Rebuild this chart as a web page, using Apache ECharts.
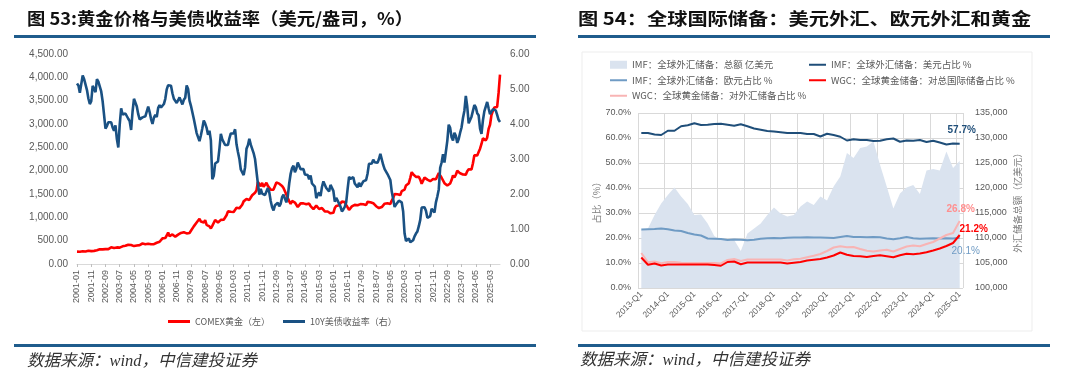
<!DOCTYPE html>
<html><head><meta charset="utf-8">
<script src="https://cdn.jsdelivr.net/npm/echarts@6/dist/echarts.min.js"></script>
<style>html,body{margin:0;padding:0;background:#fff;}#c{width:1080px;height:389px;}</style>
</head><body><div id="c"></div>
<script>
// ---------- Figure 53: gold price vs US 10Y yield (monthly, 2001-01 .. 2025-10) ----------
const goldPrice = [
265.5,261.9,263.0,260.5,272.4,270.2,267.5,272.4,283.4,283.1,276.2,275.9,
281.7,295.5,294.0,302.7,314.5,321.2,313.3,310.3,319.2,316.6,319.2,333.4,
356.9,359.0,340.6,328.2,355.7,356.4,351.0,359.8,378.9,378.9,389.9,407.6,
414.0,405.3,406.7,403.0,383.5,392.4,398.1,400.5,405.3,420.5,439.4,442.1,
424.0,423.4,434.2,429.2,421.9,430.7,424.5,437.9,456.0,469.9,476.7,510.1,
549.9,555.0,557.1,610.6,675.4,596.2,633.7,632.6,598.2,585.8,627.8,629.8,
631.2,664.8,654.9,679.4,666.9,655.5,665.5,665.3,712.7,754.6,806.3,803.2,
889.6,922.3,968.4,909.7,888.7,889.5,939.8,839.0,829.9,806.6,760.9,816.1,
858.7,943.2,924.3,890.2,928.6,945.7,934.2,949.4,996.6,1043.2,1127.0,1134.7,
1118.0,1095.4,1113.3,1148.7,1205.4,1232.9,1193.0,1215.8,1271.0,1342.0,1369.9,1390.6,
1356.4,1372.7,1424.0,1473.8,1510.4,1528.7,1572.8,1755.8,1771.9,1665.2,1739.0,1652.3,
1656.1,1742.6,1673.8,1649.7,1591.2,1598.8,1594.3,1630.3,1744.8,1746.6,1721.6,1684.8,
1671.9,1627.6,1593.1,1487.9,1414.0,1343.4,1285.5,1351.7,1348.6,1316.6,1275.9,1221.5,
1244.3,1299.6,1336.1,1299.0,1287.5,1279.1,1310.6,1296.0,1238.8,1222.5,1176.3,1202.3,
1251.8,1227.1,1178.6,1198.9,1198.6,1181.5,1128.3,1117.9,1124.8,1159.3,1086.4,1068.3,
1097.9,1199.5,1245.1,1242.3,1261.0,1276.4,1336.7,1340.2,1326.6,1266.6,1238.4,1157.4,
1192.1,1234.2,1231.4,1266.9,1246.0,1260.3,1236.8,1283.0,1314.1,1279.5,1281.9,1264.5,
1331.3,1330.7,1324.7,1334.8,1303.5,1281.6,1237.7,1201.7,1198.4,1215.4,1220.7,1250.4,
1291.8,1320.1,1300.9,1285.9,1283.7,1359.0,1412.9,1500.4,1510.6,1494.8,1470.0,1479.1,
1560.7,1597.1,1591.9,1683.2,1715.9,1732.2,1846.5,1968.6,1921.9,1900.3,1866.3,1858.4,
1867.0,1808.2,1718.2,1760.0,1850.3,1834.6,1807.8,1785.3,1775.1,1776.7,1821.4,1790.4,
1816.0,1856.3,1947.8,1936.9,1848.5,1836.6,1732.7,1764.6,1680.7,1664.5,1725.1,1797.6,
1898.4,1854.6,1912.7,1999.8,1991.4,1942.9,1951.0,1918.7,1916.4,1915.3,1985.8,2029.2,
2034.0,2023.4,2158.4,2330.6,2349.1,2326.8,2398.8,2470.4,2571.7,2690.9,2650.7,2648.0,
2709.0,2894.0,2984.0,3194.0,3280.0,3352.0,3340.0,3366.0,3665.0,4058.0
];
const ust10y = [
5.16,5.10,4.89,5.14,5.39,5.28,5.24,4.97,4.73,4.57,4.65,5.09,
5.04,4.91,5.28,5.21,5.16,4.93,4.65,4.26,3.87,3.94,4.05,4.03,
4.05,3.90,3.81,3.96,3.57,3.33,3.98,4.45,4.27,4.29,4.30,4.27,
4.15,4.08,3.83,4.35,4.72,4.73,4.50,4.28,4.13,4.10,4.19,4.23,
4.22,4.17,4.50,4.34,4.14,4.00,4.18,4.26,4.20,4.46,4.54,4.47,
4.42,4.57,4.72,4.99,5.11,5.11,5.09,4.88,4.72,4.73,4.60,4.56,
4.76,4.72,4.56,4.69,4.75,5.10,5.00,4.67,4.52,4.53,4.15,4.10,
3.74,3.74,3.51,3.68,3.88,4.10,4.01,3.89,3.69,3.81,3.53,2.42,
2.52,2.87,2.82,2.93,3.29,3.72,3.56,3.59,3.40,3.39,3.40,3.59,
3.73,3.69,3.73,3.85,3.42,3.20,3.01,2.70,2.65,2.54,2.76,3.29,
3.39,3.58,3.41,3.46,3.17,3.00,3.00,2.30,1.98,2.15,2.01,1.98,
1.97,1.97,2.17,2.05,1.80,1.62,1.53,1.68,1.72,1.75,1.65,1.72,
1.91,1.98,1.96,1.76,1.93,2.30,2.58,2.74,2.81,2.62,2.72,2.90,
2.86,2.71,2.72,2.71,2.56,2.60,2.54,2.42,2.53,2.30,2.33,2.21,
1.88,1.98,2.04,1.94,2.20,2.36,2.32,2.17,2.17,2.07,2.26,2.24,
2.09,1.78,1.89,1.81,1.81,1.64,1.50,1.56,1.63,1.76,2.14,2.49,
2.43,2.42,2.48,2.30,2.30,2.19,2.32,2.21,2.20,2.36,2.35,2.40,
2.58,2.86,2.84,2.87,2.98,2.91,2.89,2.89,3.00,3.15,3.12,2.83,
2.71,2.68,2.57,2.53,2.40,2.07,2.06,1.63,1.70,1.71,1.81,1.86,
1.76,1.50,0.87,0.66,0.67,0.73,0.62,0.65,0.68,0.79,0.87,0.93,
1.08,1.26,1.61,1.64,1.62,1.52,1.32,1.28,1.37,1.58,1.56,1.47,
1.76,1.93,2.13,2.75,2.90,3.14,2.90,2.90,3.52,3.98,3.89,3.62,
3.53,3.75,3.66,3.46,3.57,3.75,3.90,4.17,4.38,4.80,4.50,4.02,
4.06,4.21,4.21,4.54,4.48,4.31,4.25,3.87,3.72,4.10,4.36,4.39,
4.63,4.45,4.28,4.28,4.42,4.38,4.39,4.26,4.12,4.06
];
const months = [];
for (let y = 2001; y <= 2025; y++) for (let m = 1; m <= 12; m++) {
  if (months.length < goldPrice.length) months.push(y + '-' + String(m).padStart(2, '0'));
}

// ---------- Figure 54: global reserves (quarterly, 2013-Q1 .. 2025-Q1) ----------
const fxTotal = [111600,111900,114600,116900,118600,120100,118300,116800,114600,114700,112900,110400,
109600,109700,109600,107400,110900,111900,112900,114600,116100,114900,114300,114600,
116300,117300,116600,118300,117500,120300,122300,127000,126000,128000,128300,129300,
124600,120300,115900,118900,120100,120600,118800,123500,123800,123500,127300,124000,125400];
const usdShare = [62.0,62.0,61.4,61.2,62.9,62.9,64.7,65.1,65.9,65.2,65.3,65.6,
65.7,65.3,64.9,65.5,64.7,63.8,63.3,62.8,62.6,62.3,62.0,62.0,
62.0,61.6,61.6,60.6,61.7,61.2,60.5,59.0,59.5,59.2,59.2,58.8,
58.9,59.5,59.8,58.5,59.0,58.9,59.2,58.4,58.9,58.2,57.4,57.8,57.7];
const eurShare = [23.4,23.5,23.6,23.8,23.5,23.0,22.8,22.0,21.4,21.0,19.8,19.7,
19.6,19.2,19.4,19.3,19.1,19.3,19.7,19.9,20.0,19.9,20.1,20.2,
20.2,20.3,20.2,20.2,20.1,20.0,20.4,20.8,20.4,20.4,20.3,20.4,
20.3,19.8,19.5,19.9,20.4,19.9,19.7,19.8,19.9,19.8,19.9,19.8,20.1];
const goldTotalShare = [12.2,9.3,9.8,9.0,9.4,9.4,9.4,9.4,9.4,9.4,9.4,9.2,
8.9,10.4,10.6,9.5,10.2,10.2,10.2,10.2,10.2,10.2,9.8,10.1,
10.4,11.0,11.3,11.6,12.2,13.0,14.2,13.3,12.8,12.7,12.4,12.8,
13.1,12.7,12.3,13.1,13.7,13.5,13.8,14.3,15.0,15.8,16.8,18.0,21.2];
const goldFxShare = [14.0,10.3,10.6,9.9,10.4,10.4,10.1,10.0,10.0,10.0,10.0,10.0,
9.8,11.2,11.6,10.8,11.4,11.4,11.4,11.4,11.4,11.4,11.0,11.5,
11.7,12.3,12.9,13.6,14.8,16.2,16.7,16.3,16.4,15.6,14.9,14.6,
15.0,15.3,14.6,15.6,16.6,17.0,16.7,17.6,18.4,19.8,21.2,22.0,26.8];
const quarters = [];
for (let y = 2013; y <= 2025; y++) for (let q = 1; q <= 4; q++) {
  if (quarters.length < usdShare.length) quarters.push(y + '-Q' + q);
}

const N1 = ['COMEX黄金（左）', '10Y美债收益率（右）'];
const N2 = ['IMF：全球外汇储备：总额 亿美元', 'IMF：全球外汇储备：美元占比 %', 'IMF：全球外汇储备：欧元占比 %',
            'WGC：全球黄金储备：对总国际储备占比 %', 'WGC：全球黄金储备：对外汇储备占比 %'];

const SANS = '"Liberation Sans","Noto Sans CJK SC",sans-serif';
const CJK = '"Noto Sans CJK SC",sans-serif';
const barColor = '#1f5c8c';
const lab = '#595959';
const ICON_L = 'path://M0,0H22V3H0Z';
const ICON_R = 'path://M0,0H17V2H0Z';

function endLab(color, dx, dy, bold) {
  return { show: true, formatter: p => Number(p.value).toFixed(1) + '%', color: color, fontSize: 10,
    fontWeight: bold ? 'bold' : 'normal', fontFamily: SANS, align: 'center', verticalAlign: 'middle',
    distance: 0, offset: [dx, dy] };
}
function legL(left, name) {
  return { left: left, top: 312, itemWidth: 22, itemHeight: 10, icon: ICON_L,
    textStyle: { fontSize: 9, color: lab, fontFamily: CJK }, data: [name] };
}
function legR(left, items) {
  return { orient: 'vertical', left: left, top: 55, itemWidth: 17, itemHeight: 8, itemGap: 6, icon: ICON_R,
    textStyle: { fontSize: 9.5, color: lab, fontFamily: CJK }, data: items };
}

const chart = echarts.init(document.getElementById('c'));
chart.setOption({
  animation: false,
  backgroundColor: '#fff',
  textStyle: { fontFamily: SANS },
  grid: [
    { left: 77, top: 54, width: 423, height: 210 },
    { left: 638, top: 113, width: 325, height: 175 }
  ],
  legend: [
    legL(163, N1[0]),
    legL(278, N1[1]),
    legR(605, [{ name: N2[0], icon: 'rect' }, N2[2], N2[4]]),
    legR(804, [N2[1], N2[3]])
  ],
  xAxis: [
    { type: 'category', gridIndex: 0, data: months, boundaryGap: false,
      axisLine: { lineStyle: { color: '#d9d9d9' } },
      axisTick: { interval: 9, length: 3, lineStyle: { color: '#bfbfbf' } },
      axisLabel: { interval: 9, rotate: 90, fontSize: 9, color: lab, margin: 6 },
      splitLine: { show: false } },
    { type: 'category', gridIndex: 1, data: quarters, boundaryGap: true,
      axisLine: { show: false }, axisTick: { show: false },
      axisLabel: { interval: 3, rotate: 45, fontSize: 8.5, color: lab, margin: 5 },
      splitLine: { show: true, interval: 3, lineStyle: { color: '#d9d9d9' } } }
  ],
  yAxis: [
    { type: 'value', gridIndex: 0, min: 0, max: 4500, interval: 500, position: 'left',
      axisLine: { show: false }, axisTick: { show: false }, splitLine: { show: false },
      axisLabel: { fontSize: 10, color: lab, margin: 9,
        formatter: v => v.toLocaleString('en-US', { minimumFractionDigits: 2, maximumFractionDigits: 2 }) } },
    { type: 'value', gridIndex: 0, min: 0, max: 6, interval: 1, position: 'right',
      axisLine: { show: false }, axisTick: { show: false }, splitLine: { show: false },
      axisLabel: { fontSize: 10, color: lab, margin: 10, formatter: v => v.toFixed(2) } },
    { type: 'value', gridIndex: 1, min: 0, max: 70, interval: 10, position: 'left',
      axisLine: { show: false }, axisTick: { show: false },
      splitLine: { lineStyle: { color: '#d9d9d9' } },
      axisLabel: { fontSize: 9, color: lab, margin: 7, formatter: v => v.toFixed(1) + '%' },
      name: '占比（%）', nameLocation: 'middle', nameRotate: 90, nameGap: 37,
      nameTextStyle: { fontSize: 9.5, color: '#7f7f7f', fontFamily: CJK } },
    { type: 'value', gridIndex: 1, min: 100000, max: 135000, interval: 5000, position: 'right',
      axisLine: { show: false }, axisTick: { show: false }, splitLine: { show: false },
      axisLabel: { fontSize: 9, color: lab, margin: 12,
        formatter: v => v.toLocaleString('en-US') } ,
      name: '外汇储备总额（亿美元）', nameLocation: 'middle', nameRotate: 90, nameGap: 50,
      nameTextStyle: { fontSize: 9.5, color: '#7f7f7f', fontFamily: CJK } }
  ],
  series: [
    { name: N1[0], type: 'line', xAxisIndex: 0, yAxisIndex: 0, data: goldPrice, symbol: 'none',
      color: '#ff0000', lineStyle: { width: 2.6, color: '#ff0000' } },
    { name: N1[1], type: 'line', xAxisIndex: 0, yAxisIndex: 1, data: ust10y, symbol: 'none',
      color: '#1a5183', lineStyle: { width: 2.6, color: '#1a5183' } },
    { name: N2[0], type: 'line', xAxisIndex: 1, yAxisIndex: 3, data: fxTotal, symbol: 'none',
      color: '#dae3ef', lineStyle: { width: 0 }, areaStyle: { color: '#dae3ef', opacity: 1, origin: 'start' } },
    { name: N2[2], type: 'line', xAxisIndex: 1, yAxisIndex: 2, data: eurShare, symbol: 'none',
      color: '#6f9bc4', lineStyle: { width: 2, color: '#6f9bc4' }, endLabel: endLab('#6f9bc4', 6, 13, false) },
    { name: N2[4], type: 'line', xAxisIndex: 1, yAxisIndex: 2, data: goldFxShare, symbol: 'none',
      color: '#f8b4b4', lineStyle: { width: 2, color: '#f8b4b4' }, endLabel: endLab('#ff8f8f', 1, -12, true) },
    { name: N2[3], type: 'line', xAxisIndex: 1, yAxisIndex: 2, data: goldTotalShare, symbol: 'none',
      color: '#ff0000', lineStyle: { width: 2, color: '#ff0000' }, endLabel: endLab('#ff0000', 14, -6, true) },
    { name: N2[1], type: 'line', xAxisIndex: 1, yAxisIndex: 2, data: usdShare, symbol: 'none',
      color: '#1f4e79', lineStyle: { width: 2, color: '#1f4e79' }, endLabel: endLab('#1f4e79', 2, -14, true) }
  ],
  graphic: [
    { type: 'rect', shape: { x: 14, y: 35, width: 522, height: 3 }, style: { fill: barColor } },
    { type: 'rect', shape: { x: 578, y: 35, width: 472, height: 3 }, style: { fill: barColor } },
    { type: 'rect', shape: { x: 14, y: 344, width: 522, height: 3 }, style: { fill: barColor } },
    { type: 'rect', shape: { x: 578, y: 344, width: 472, height: 3 }, style: { fill: barColor } },
    { type: 'rect', shape: { x: 582, y: 52, width: 450, height: 279 }, style: { fill: 'none', stroke: '#ededed', lineWidth: 1 } },
    { type: 'text', x: 27, y: 19, scaleX: 1.077, style: { text: '图 53:黄金价格与美债收益率（美元/盎司，%）', x: 0, y: 0,
        font: 'bold 17px "Noto Sans CJK SC"', fill: '#111', verticalAlign: 'middle' } },
    { type: 'text', x: 578, y: 19, scaleX: 1.19, style: { text: '图 54：全球国际储备：美元外汇、欧元外汇和黄金', x: 0, y: 0,
        font: 'bold 17px "Noto Sans CJK SC"', fill: '#111', verticalAlign: 'middle' } },
    { type: 'text', style: { text: '数据来源：wind，中信建投证券', x: 27, y: 362,
        font: 'italic 16.5px "Liberation Serif","Noto Sans CJK SC"', fill: '#333', verticalAlign: 'middle' } },
    { type: 'text', style: { text: '数据来源：wind，中信建投证券', x: 580, y: 361,
        font: 'italic 16.5px "Liberation Serif","Noto Sans CJK SC"', fill: '#333', verticalAlign: 'middle' } }
  ]
});
</script>
</body></html>
